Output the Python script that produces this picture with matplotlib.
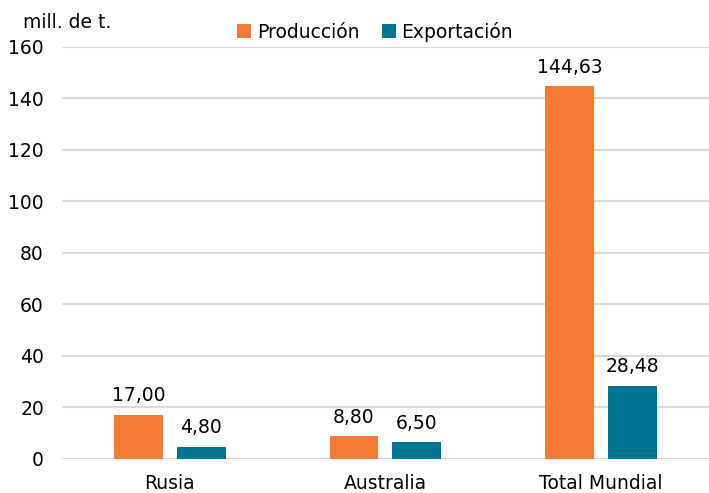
import matplotlib
matplotlib.use("Agg")
import matplotlib.pyplot as plt
import numpy as np

categories = ["Rusia", "Australia", "Total Mundial"]
produccion = [17.00, 8.80, 144.63]
exportacion = [4.80, 6.50, 28.48]
series_names = ["Producción", "Exportación"]
yticks = [0, 20, 40, 60, 80, 100, 120, 140, 160]

c_orange = "#F47A36"
c_teal = "#00758F"

plt.rcParams['font.family'] = ['DejaVu Sans']
FS = 13.5

fig = plt.figure(figsize=(7.09, 4.93), dpi=100)
ax = fig.add_axes([0.0874, 0.069, 0.9126, 0.836])

x = np.arange(len(categories))
w = 0.227
off = 0.146
b1 = ax.bar(x - off, produccion, w, color=c_orange, label=series_names[0], zorder=3)
b2 = ax.bar(x + off, exportacion, w, color=c_teal, label=series_names[1], zorder=3)

def fmt(v):
    return f"{v:.2f}".replace(".", ",")

for bars, vals in ((b1, produccion), (b2, exportacion)):
    for r, v in zip(bars, vals):
        ax.annotate(fmt(v), (r.get_x() + r.get_width() / 2, v), xytext=(0, 7),
                    textcoords="offset points", ha="center", va="bottom", fontsize=FS)

ax.set_xlim(-0.5, 2.5)
ax.set_ylim(0, 160)
ax.set_yticks(yticks)
ax.set_yticklabels([str(t) for t in yticks], fontsize=FS)
ax.set_xticks(x)
ax.set_xticklabels(categories, fontsize=FS)
ax.tick_params(axis='y', length=0, pad=13)
ax.tick_params(axis='x', length=0, pad=11)
ax.grid(axis='y', color="#D9D9D9", linewidth=1.5, zorder=0)
for s in ax.spines.values():
    s.set_visible(False)

fig.text(0.032, 0.955, "mill. de t.", fontsize=FS, ha="left", va="center")
ax.legend(loc="center", bbox_to_anchor=(0.484, 1.037), ncol=2, frameon=False,
          fontsize=FS, handlelength=0.75, handleheight=0.75, handletextpad=0.3,
          columnspacing=1.2)

fig.savefig("out.png", dpi=100)
